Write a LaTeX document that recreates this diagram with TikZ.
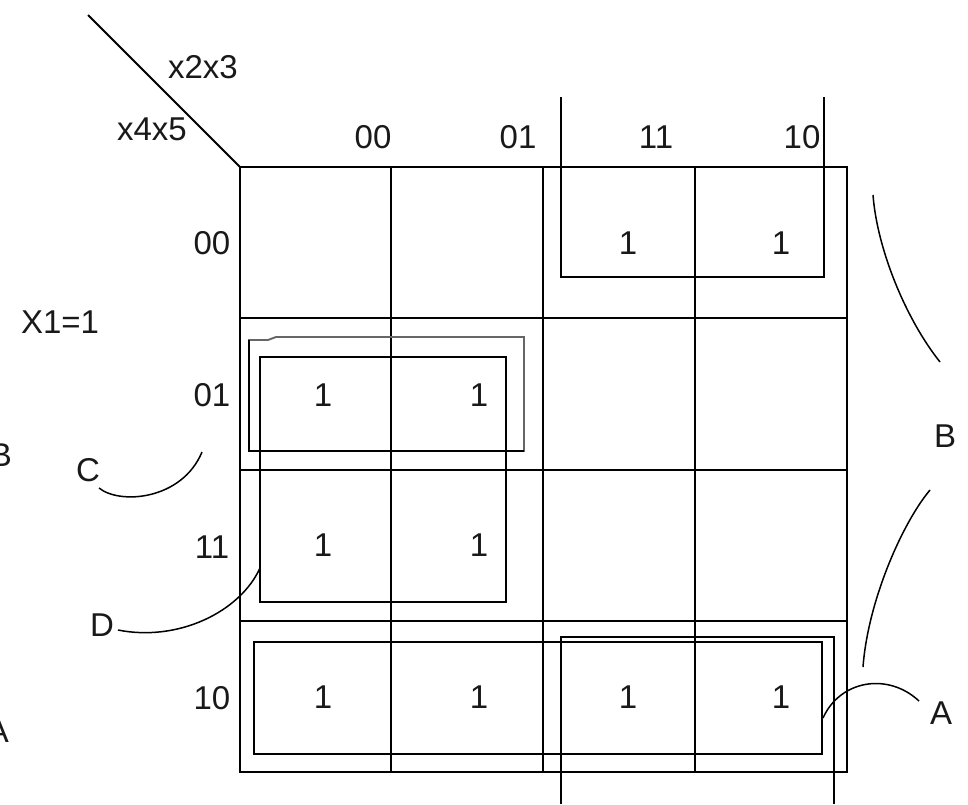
\documentclass[tikz,border=0pt]{standalone}
\usepackage{fontspec}
\setmainfont{Liberation Sans}
\begin{document}
\begin{tikzpicture}[x=1pt,y=-1pt,line width=1.8pt,
  lbl/.style={font=\fontsize{33}{38}\selectfont,inner sep=0pt,text=black!90},
  grp/.style={line width=1.9pt},
  arcline/.style={line width=1.5pt}]
\useasboundingbox (0,0) rectangle (968,804);
\clip (0,0) rectangle (968,804);
% grid
\draw (240,167) rectangle (847,772);
\foreach \x in {391,543,695} \draw (\x,167) -- (\x,772);
\foreach \y in {318,470,621} \draw (240,\y) -- (847,\y);
\draw (88,15) -- (240,167);
% header labels
\node[lbl] (v23) at (203,67) {x2x3};
\node[lbl] (v45) at (152,129) {x4x5};
\node[lbl] (c00) at (373,137) {00};
\node[lbl] (c01) at (518,137) {01};
\node[lbl] (c11) at (656,137) {11};
\node[lbl] (c10) at (802,137) {10};
\node[lbl] (r00) at (212,243) {00};
\node[lbl] (r01) at (212,395) {01};
\node[lbl] (r11) at (212,547) {11};
\node[lbl] (r10) at (212,698) {10};
\node[lbl] (x1) at (60,322) {X1=1};
% ones
\node[lbl] (o1) at (628,243) {1};
\node[lbl] (o2) at (781,243) {1};
\node[lbl] (o3) at (323,395) {1};
\node[lbl] (o4) at (479,395) {1};
\node[lbl] (o5) at (323,545) {1};
\node[lbl] (o6) at (479,545) {1};
\node[lbl] (o7) at (323,697) {1};
\node[lbl] (o8) at (479,697) {1};
\node[lbl] (o9) at (628,697) {1};
\node[lbl] (o10) at (781,697) {1};
% groups
\draw[grp] (561,97) -- (561,277) -- (824,277) -- (824,97);
\draw[grp] (561,804) -- (561,637) -- (834,637) -- (834,804);
\draw[grp] (254,642) rectangle (822,754);
\draw[grp] (260,357) rectangle (506,602);
\draw[grp,black!60] (249,451) -- (249,340) -- (268,340) -- (276,337) -- (524,337) -- (524,451) -- cycle;
\draw[grp] (524,451) -- (249,451) -- (249,340);
% group labels
\node[lbl] (lB) at (945,436) {B};
\node[lbl] (lA) at (941,713) {A};
\node[lbl] (lC) at (88,470) {C};
\node[lbl] (lD) at (102,625) {D};
\node[lbl] (pB) at (1,455) {B};
\node[lbl] (pA) at (-2,731) {A};
% connector curves
\coordinate (b1s) at (873,195);
\coordinate (b1e) at (940,362);
\coordinate (b2s) at (930,490);
\coordinate (b2e) at (863,667);
\coordinate (aS) at (823,718);
\coordinate (aE) at (919,701);
\coordinate (cS) at (99,488);
\coordinate (cE) at (202,452);
\coordinate (dS) at (118,630);
\coordinate (dE) at (260,568);
\draw[arcline] (b1s) .. controls (877,248) and (905,318) .. (b1e);
\draw[arcline] (b2s) .. controls (903,522) and (868,600) .. (b2e);
\draw[arcline] (aS) .. controls (840,680) and (888,672) .. (aE);
\draw[arcline] (cS) .. controls (120,505) and (182,500) .. (cE);
\draw[arcline] (dS) .. controls (178,642) and (240,612) .. (dE);
\end{tikzpicture}
\end{document}
